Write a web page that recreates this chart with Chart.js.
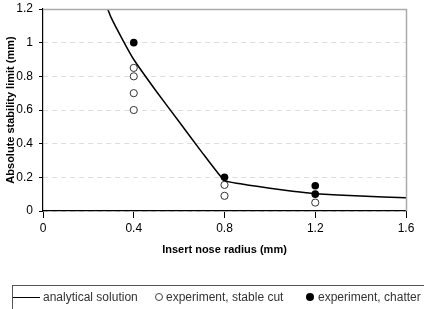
<!DOCTYPE html>
<html>
<head>
<meta charset="utf-8">
<script src="https://cdn.jsdelivr.net/npm/chart.js@4"></script>
<style>
  html, body { margin:0; padding:0; background:#fff; }
  #wrap { position:relative; width:424px; height:309px; overflow:hidden; }
  #legend {
    position:absolute; left:12px; top:285px; width:440px; height:30px;
    border:1px solid #555; box-sizing:border-box;
    font:12px "Liberation Sans", Arial, sans-serif; color:#333;
  }
  #legend span { position:absolute; top:4px; white-space:nowrap; }
  .lline { position:absolute; left:0; top:11px; width:27px; border-top:1px solid #000; }
  .ldot { position:absolute; top:7px; width:8px; height:8px; border-radius:50%; box-sizing:border-box; }
</style>
</head>
<body>
<div id="wrap">
  <canvas id="chart" width="424" height="309"></canvas>
  <div id="legend">
    <div class="lline"></div>
    <span style="left:30px">analytical solution</span>
    <div class="ldot" style="left:142px; border:1px solid #444; background:#fff"></div>
    <span style="left:153px">experiment, stable cut</span>
    <div class="ldot" style="left:293px; background:#000"></div>
    <span style="left:305px">experiment, chatter</span>
  </div>
</div>
<script>
"use strict";

// analytical curve
const curveX = [0.25, 0.3, 0.35, 0.4, 0.5, 0.6, 0.7, 0.8, 0.9, 1.0, 1.1, 1.2, 1.4, 1.6];
const curveY = [1.32, 1.15, 1.02, 0.9, 0.71, 0.53, 0.35, 0.18, 0.155, 0.135, 0.117, 0.103, 0.089, 0.078];

// experiment, stable cut
const stableX = [0.4, 0.4, 0.4, 0.4, 0.8, 0.8, 1.2];
const stableY = [0.85, 0.8, 0.7, 0.6, 0.155, 0.09, 0.05];

// experiment, chatter
const chatterX = [0.4, 0.8, 1.2, 1.2];
const chatterY = [1.0, 0.2, 0.15, 0.1];

const xTicks = [0, 0.4, 0.8, 1.2, 1.6];

const pts = (xs, ys) => xs.map((x, i) => ({ x: x, y: ys[i] }));

const frame = {
  id: "frame",
  afterDatasetsDraw(c) {
    const a = c.chartArea, ctx = c.ctx;
    ctx.save();
    ctx.strokeStyle = "#aaa";
    ctx.lineWidth = 1.5;
    ctx.beginPath();
    ctx.moveTo(a.left, a.top + 0.5);
    ctx.lineTo(a.right + 0.5, a.top + 0.5);
    ctx.lineTo(a.right + 0.5, a.bottom);
    ctx.stroke();
    ctx.restore();
  }
};

const TICKFONT = { family: "'Liberation Sans', Arial, sans-serif", size: 12 };
const TITLEFONT = { family: "'Liberation Sans', Arial, sans-serif", size: 11, weight: "bold" };

new Chart(document.getElementById("chart"), {
  type: "scatter",
  data: {
    datasets: [
      { label: "analytical solution", data: pts(curveX, curveY), showLine: true,
        borderColor: "#000", borderWidth: 1.5, pointRadius: 0, tension: 0.1 },
      { label: "experiment, stable cut", data: pts(stableX, stableY),
        pointRadius: 3.6, borderWidth: 1, borderColor: "#333", backgroundColor: "#fff" },
      { label: "experiment, chatter", data: pts(chatterX, chatterY),
        pointRadius: 3.8, borderWidth: 0, borderColor: "#000", backgroundColor: "#000" }
    ]
  },
  options: {
    responsive: false,
    animation: false,
    layout: { padding: { top: 9, right: 18, bottom: 48, left: 0 } },
    plugins: { legend: { display: false }, tooltip: { enabled: false } },
    scales: {
      x: {
        type: "linear", min: 0, max: 1.6,
        afterBuildTicks: s => { s.ticks = xTicks.map(v => ({ value: v })); },
        afterFit: s => { s.height = 50; s.paddingLeft = 0; s.paddingRight = 0; },
        ticks: { color: "#000", font: TICKFONT, padding: 3, callback: v => String(v) },
        grid: { drawOnChartArea: false, drawTicks: true, tickLength: 7, tickColor: "#000" },
        border: { color: "#000", width: 1.2 },
        title: { display: true, text: "Insert nose radius (mm)", color: "#000", font: TITLEFONT, padding: { top: 2 } }
      },
      y: {
        min: 0, max: 1.2,
        afterFit: s => { s.width = 43; s.paddingTop = 0; s.paddingBottom = 0; },
        ticks: { stepSize: 0.2, color: "#000", font: TICKFONT, padding: 6, callback: v => String(+v.toFixed(1)) },
        grid: { color: "#ddd", tickColor: "#000", tickLength: 4, lineWidth: 1 },
        border: { color: "#000", width: 1.2, dash: [5, 4] },
        title: { display: true, text: "Absolute stability limit (mm)", color: "#000", font: TITLEFONT, padding: { bottom: 0 } }
      }
    }
  },
  plugins: [frame]
});
</script>
</body>
</html>
